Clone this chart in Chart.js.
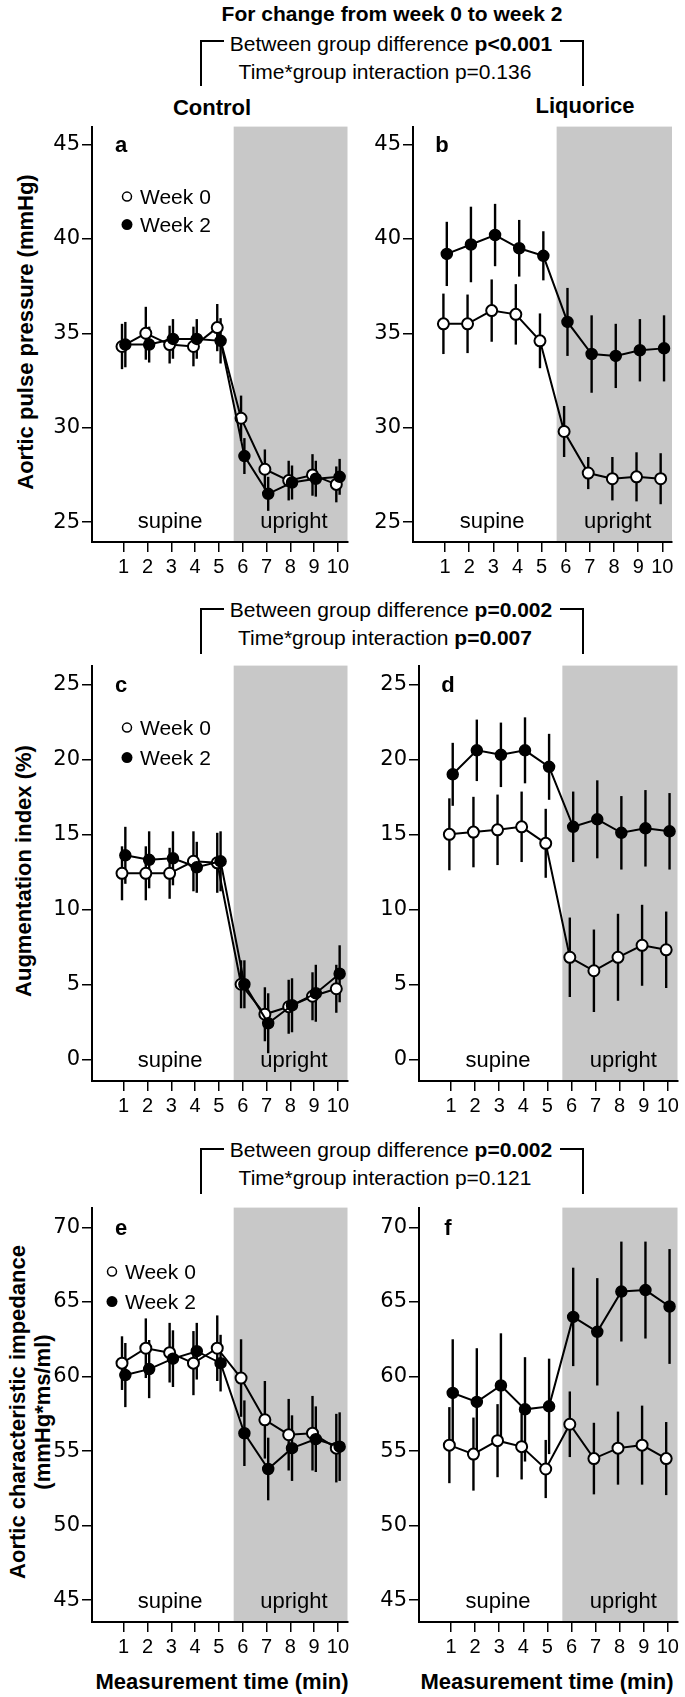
<!DOCTYPE html>
<html lang="en">
<head>
<meta charset="UTF-8">
<title>Aortic pulse pressure, augmentation index and characteristic impedance</title>
<script src="https://cdn.jsdelivr.net/npm/chart.js"></script>
<style>
  body { margin: 0; background: #fff; color: #000; font-family: "Liberation Sans", Arial, sans-serif; }
  #fig { position: relative; width: 685px; height: 1697px; overflow: hidden; background: #fff; }
  #fig canvas { position: absolute; }
  .txt { position: absolute; white-space: nowrap; transform: translate(-50%, -50%); font-size: 21px; }
  .b { font-weight: bold; }
  .ytitle { position: absolute; white-space: nowrap; font-weight: bold; font-size: 22px; line-height: 25px;
            text-align: center; transform: translate(-50%, -50%) rotate(-90deg); }
  .brL { position: absolute; border-left: 2px solid #000; border-top: 2px solid #000; width: 22px; height: 44px; }
  .brR { position: absolute; border-right: 2px solid #000; border-top: 2px solid #000; width: 22px; height: 44px; }
</style>
</head>
<body>
<div id="fig">
  <!-- top header -->
  <div class="txt b" style="left:392px;top:14px;">For change from week 0 to week 2</div>
  <div class="brL" style="left:200px;top:40px;"></div>
  <div class="brR" style="left:560px;top:40px;"></div>
  <div class="txt" style="left:391px;top:44px;">Between group difference <b>p&lt;0.001</b></div>
  <div class="txt" style="left:385px;top:72px;">Time*group interaction p=0.136</div>
  <div class="txt b" style="left:212px;top:108px;font-size:22px;">Control</div>
  <div class="txt b" style="left:585px;top:106px;font-size:22px;">Liquorice</div>

  <!-- middle header -->
  <div class="brL" style="left:200px;top:608px;"></div>
  <div class="brR" style="left:560px;top:608px;"></div>
  <div class="txt" style="left:391px;top:610px;">Between group difference <b>p=0.002</b></div>
  <div class="txt" style="left:385px;top:638px;">Time*group interaction <b>p=0.007</b></div>

  <!-- bottom header -->
  <div class="brL" style="left:200px;top:1148px;"></div>
  <div class="brR" style="left:560px;top:1148px;"></div>
  <div class="txt" style="left:391px;top:1150px;">Between group difference <b>p=0.002</b></div>
  <div class="txt" style="left:385px;top:1178px;">Time*group interaction p=0.121</div>

  <!-- axis titles -->
  <div class="ytitle" style="left:25px;top:332px;">Aortic pulse pressure (mmHg)</div>
  <div class="ytitle" style="left:23px;top:871px;">Augmentation index (%)</div>
  <div class="ytitle" style="left:30px;top:1412px;">Aortic characteristic impedance<br>(mmHg*ms/ml)</div>
  <div class="txt b" style="left:222px;top:1682px;font-size:22px;">Measurement time (min)</div>
  <div class="txt b" style="left:547px;top:1682px;font-size:22px;">Measurement time (min)</div>

  <canvas id="pa"></canvas>
  <canvas id="pb"></canvas>
  <canvas id="pc"></canvas>
  <canvas id="pd"></canvas>
  <canvas id="pe"></canvas>
  <canvas id="pf"></canvas>
</div>

<script>
// ---- data (mean and error bar half-length) ----
const minutes = [1, 2, 3, 4, 5, 6, 7, 8, 9, 10];
const seriesNames = ['Week 0', 'Week 2'];

// a: aortic pulse pressure, control
const pulseCtrlW0   = [34.3, 35.0, 34.4, 34.3, 35.3, 30.5, 27.8, 27.2, 27.5, 27.0];
const pulseCtrlW0Se = [1.2, 1.4, 1.0, 1.05, 1.25, 1.2, 1.05, 1.05, 1.1, 0.95];
const pulseCtrlW2   = [34.4, 34.4, 34.7, 34.7, 34.6, 28.5, 26.5, 27.1, 27.3, 27.4];
const pulseCtrlW2Se = [1.2, 0.95, 1.05, 1.05, 1.2, 0.95, 0.9, 0.9, 0.95, 0.95];

// b: aortic pulse pressure, liquorice
const pulseLiqW0   = [35.5, 35.5, 36.2, 36.0, 34.6, 29.8, 27.6, 27.3, 27.4, 27.3];
const pulseLiqW0Se = [1.6, 1.55, 1.65, 1.6, 1.45, 1.35, 0.85, 1.15, 1.3, 1.35];
const pulseLiqW2   = [39.2, 39.7, 40.2, 39.5, 39.1, 35.6, 33.9, 33.8, 34.1, 34.2];
const pulseLiqW2Se = [1.7, 2.0, 1.65, 1.5, 1.3, 1.8, 2.05, 1.7, 1.65, 1.75];

// c: augmentation index, control
const augCtrlW0   = [12.4, 12.4, 12.4, 13.2, 13.1, 5.0, 3.0, 3.5, 4.2, 4.7];
const augCtrlW0Se = [1.8, 1.8, 1.7, 2.0, 2.0, 1.6, 1.8, 1.8, 1.6, 1.6];
const augCtrlW2   = [13.6, 13.3, 13.4, 12.8, 13.2, 5.0, 2.4, 3.6, 4.4, 5.7];
const augCtrlW2Se = [1.9, 1.9, 1.8, 1.7, 2.0, 1.6, 2.0, 1.8, 1.9, 1.9];

// d: augmentation index, liquorice
const augLiqW0   = [15.0, 15.15, 15.3, 15.5, 14.4, 6.8, 5.9, 6.8, 7.6, 7.3];
const augLiqW0Se = [2.4, 2.35, 2.35, 2.35, 2.3, 2.65, 2.75, 2.9, 2.7, 2.55];
const augLiqW2   = [19.0, 20.6, 20.3, 20.6, 19.5, 15.5, 16.0, 15.1, 15.4, 15.2];
const augLiqW2Se = [2.1, 2.05, 2.15, 2.2, 2.2, 2.35, 2.6, 2.45, 2.55, 2.55];

// e: aortic characteristic impedance, control
const impCtrlW0   = [60.9, 61.9, 61.6, 60.9, 61.9, 59.9, 57.1, 56.1, 56.2, 55.2];
const impCtrlW0Se = [1.8, 2.0, 2.0, 2.15, 2.2, 2.6, 2.6, 2.4, 2.5, 2.3];
const impCtrlW2   = [60.1, 60.5, 61.2, 61.7, 60.9, 56.2, 53.8, 55.2, 55.8, 55.3];
const impCtrlW2Se = [2.15, 1.95, 1.9, 1.9, 1.9, 2.2, 2.1, 2.2, 2.2, 2.3];

// f: aortic characteristic impedance, liquorice
const impLiqW0   = [55.4, 54.8, 55.7, 55.3, 53.8, 56.8, 54.5, 55.2, 55.4, 54.5];
const impLiqW0Se = [2.55, 2.45, 2.45, 2.2, 1.95, 2.2, 2.4, 2.45, 2.65, 2.45];
const impLiqW2   = [58.9, 58.3, 59.4, 57.8, 58.0, 64.0, 63.0, 65.7, 65.8, 64.7];
const impLiqW2Se = [3.6, 3.6, 3.5, 3.5, 3.2, 3.3, 3.6, 3.35, 3.25, 3.85];

// tick labels
const pulseTicks = [25, 30, 35, 40, 45];
const augTicks   = [0, 5, 10, 15, 20, 25];
const impTicks   = [45, 50, 55, 60, 65, 70];

// phase boundary (upright from here on, in minutes)
const uprightFrom = 5.62;

// ---- drawing ----
const FONT = '"Liberation Sans", Arial, sans-serif';
const DODGE = 0.07;
const Y_W = 45, X_H = 35;

const shadePlugin = {
  id: 'shade',
  beforeDraw(chart) {
    const { ctx, chartArea: a, scales: { x } } = chart;
    const x0 = x.getPixelForValue(uprightFrom);
    ctx.save();
    ctx.fillStyle = '#c8c8c8';
    ctx.fillRect(x0, a.top, a.right - x0, a.bottom - a.top);
    ctx.restore();
  }
};

const errorBarPlugin = {
  id: 'errbars',
  beforeDatasetsDraw(chart) {
    const { ctx, scales: { y } } = chart;
    ctx.save();
    ctx.strokeStyle = '#000';
    ctx.lineWidth = 2.4;
    chart.data.datasets.forEach((ds, i) => {
      const meta = chart.getDatasetMeta(i);
      meta.data.forEach((pt, j) => {
        const v = ds.data[j].y, e = ds.err[j];
        ctx.beginPath();
        ctx.moveTo(pt.x, y.getPixelForValue(v + e));
        ctx.lineTo(pt.x, y.getPixelForValue(v - e));
        ctx.stroke();
      });
    });
    ctx.restore();
  }
};

const panelTextPlugin = {
  id: 'panelText',
  afterDatasetsDraw(chart, args, o) {
    const { ctx, chartArea: a, scales: { x, y } } = chart;
    ctx.save();
    ctx.fillStyle = '#000';
    ctx.textAlign = 'center';
    ctx.textBaseline = 'alphabetic';
    ctx.font = 'bold 22px ' + FONT;
    ctx.fillText(o.letter, a.left + 29, y.getPixelForValue(o.letterAt) + 7.5);
    ctx.font = '22px ' + FONT;
    ctx.fillText('supine', x.getPixelForValue(2.95), a.bottom - 14);
    ctx.fillText('upright', x.getPixelForValue(8.15), a.bottom - 14);
    if (o.legend) {
      const [dx, dy0, dy2] = o.legend;
      const mx = a.left + dx;
      ctx.textAlign = 'left';
      ctx.font = '21px ' + FONT;
      // Week 0 (open)
      ctx.beginPath();
      ctx.arc(mx, a.top + dy0, 4.5, 0, Math.PI * 2);
      ctx.fillStyle = '#fff'; ctx.fill();
      ctx.lineWidth = 1.5; ctx.strokeStyle = '#000'; ctx.stroke();
      ctx.fillStyle = '#000';
      ctx.fillText(seriesNames[0], mx + 13, a.top + dy0 + 7.5);
      // Week 2 (filled)
      ctx.beginPath();
      ctx.arc(mx, a.top + dy2, 5.5, 0, Math.PI * 2);
      ctx.fill();
      ctx.fillText(seriesNames[1], mx + 13, a.top + dy2 + 7.5);
    }
    ctx.restore();
  }
};

function makePanel(id, box, area, w0, w0Se, w2, w2Se, yRange, yTicks, letter, legend) {
  const cv = document.getElementById(id);
  cv.width = box.w; cv.height = box.h;
  cv.style.left = box.l + 'px'; cv.style.top = box.t + 'px';
  cv.style.width = box.w + 'px'; cv.style.height = box.h + 'px';

  const axisStyle = {
    grid: { drawOnChartArea: false, drawTicks: true, tickLength: 10, color: '#000', lineWidth: 1.5 },
    border: { display: true, color: '#000', width: 2 }
  };

  new Chart(cv, {
    type: 'line',
    data: {
      datasets: [
        {
          label: seriesNames[1],
          data: minutes.map((m, i) => ({ x: m + DODGE, y: w2[i] })),
          err: w2Se,
          borderColor: '#000', borderWidth: 2,
          pointRadius: 5.5, pointBackgroundColor: '#000', pointBorderColor: '#000', pointBorderWidth: 1.5
        },
        {
          label: seriesNames[0],
          data: minutes.map((m, i) => ({ x: m - DODGE, y: w0[i] })),
          err: w0Se,
          borderColor: '#000', borderWidth: 2,
          pointRadius: 5.5, pointBackgroundColor: '#fff', pointBorderColor: '#000', pointBorderWidth: 2
        }
      ]
    },
    options: {
      responsive: false,
      animation: false,
      devicePixelRatio: 1,
      layout: {
        padding: {
          left: area.l - box.l - Y_W,
          right: box.l + box.w - area.r,
          top: area.t - box.t,
          bottom: box.t + box.h - area.b - X_H
        }
      },
      plugins: {
        legend: { display: false },
        tooltip: { enabled: false },
        panelText: { letter: letter, letterAt: yTicks[yTicks.length - 1], legend: legend }
      },
      scales: {
        x: Object.assign({
          type: 'linear', min: -0.33, max: 10.4,
          afterBuildTicks: ax => { ax.ticks = minutes.map(v => ({ value: v })); },
          afterFit: ax => { ax.height = X_H; },
          ticks: { color: '#000', font: { family: FONT, size: 20 }, padding: 3, maxRotation: 0, autoSkip: false }
        }, axisStyle),
        y: Object.assign({
          min: yRange[0], max: yRange[1],
          afterBuildTicks: ax => { ax.ticks = yTicks.map(v => ({ value: v })); },
          afterFit: ax => { ax.width = Y_W; },
          ticks: { color: '#000', font: { family: '"DejaVu Sans", sans-serif', size: 21 }, padding: 2 }
        }, axisStyle)
      }
    },
    plugins: [shadePlugin, errorBarPlugin, panelTextPlugin]
  });
}

makePanel('pa', { l: 0, t: 112, w: 355, h: 470 }, { l: 92, r: 350, t: 122, b: 542 },
  pulseCtrlW0, pulseCtrlW0Se, pulseCtrlW2, pulseCtrlW2Se, [23.95, 45.94], pulseTicks, 'a', [35, 70, 98]);
makePanel('pb', { l: 355, t: 112, w: 330, h: 470 }, { l: 413, r: 672, t: 122, b: 542 },
  pulseLiqW0, pulseLiqW0Se, pulseLiqW2, pulseLiqW2Se, [23.95, 45.94], pulseTicks, 'b', null);
makePanel('pc', { l: 0, t: 651, w: 355, h: 470 }, { l: 92, r: 350, t: 661, b: 1081 },
  augCtrlW0, augCtrlW0Se, augCtrlW2, augCtrlW2Se, [-1.45, 26.25], augTicks, 'c', [35, 62, 92]);
makePanel('pd', { l: 355, t: 651, w: 330, h: 470 }, { l: 419, r: 678, t: 661, b: 1081 },
  augLiqW0, augLiqW0Se, augLiqW2, augLiqW2Se, [-1.45, 26.25], augTicks, 'd', null);
makePanel('pe', { l: 0, t: 1193, w: 355, h: 469 }, { l: 92, r: 352, t: 1203, b: 1622 },
  impCtrlW0, impCtrlW0Se, impCtrlW2, impCtrlW2Se, [43.54, 71.33], impTicks, 'e', [20, 64, 94]);
makePanel('pf', { l: 355, t: 1193, w: 330, h: 469 }, { l: 419, r: 678, t: 1203, b: 1622 },
  impLiqW0, impLiqW0Se, impLiqW2, impLiqW2Se, [43.54, 71.33], impTicks, 'f', null);
</script>
</body>
</html>
